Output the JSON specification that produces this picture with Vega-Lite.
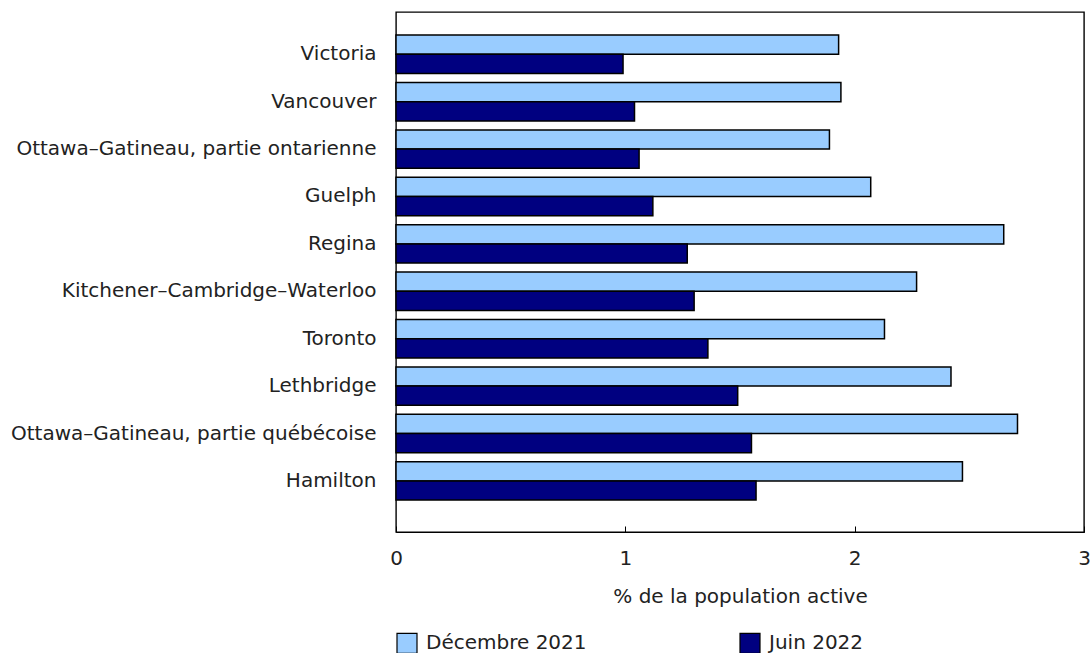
{
  "$schema": "https://vega.github.io/schema/vega-lite/v6.json",
  "width": 688,
  "height": 520,
  "autosize": {"type": "none"},
  "padding": {"left": 396, "top": 12, "right": 8, "bottom": 121},
  "config": {
    "font": "DejaVu Sans",
    "view": {"stroke": "#000000", "strokeWidth": 1.4},
    "axis": {"labelFont": "DejaVu Sans", "titleFont": "DejaVu Sans", "labelColor": "#222222", "titleColor": "#222222"}
  },
  "data": {
    "values": [
      {"ville": "Victoria", "periode": "Décembre 2021", "valeur": 1.93},
      {"ville": "Victoria", "periode": "Juin 2022", "valeur": 0.99},
      {"ville": "Vancouver", "periode": "Décembre 2021", "valeur": 1.94},
      {"ville": "Vancouver", "periode": "Juin 2022", "valeur": 1.04},
      {"ville": "Ottawa–Gatineau, partie ontarienne", "periode": "Décembre 2021", "valeur": 1.89},
      {"ville": "Ottawa–Gatineau, partie ontarienne", "periode": "Juin 2022", "valeur": 1.06},
      {"ville": "Guelph", "periode": "Décembre 2021", "valeur": 2.07},
      {"ville": "Guelph", "periode": "Juin 2022", "valeur": 1.12},
      {"ville": "Regina", "periode": "Décembre 2021", "valeur": 2.65},
      {"ville": "Regina", "periode": "Juin 2022", "valeur": 1.27},
      {"ville": "Kitchener–Cambridge–Waterloo", "periode": "Décembre 2021", "valeur": 2.27},
      {"ville": "Kitchener–Cambridge–Waterloo", "periode": "Juin 2022", "valeur": 1.30},
      {"ville": "Toronto", "periode": "Décembre 2021", "valeur": 2.13},
      {"ville": "Toronto", "periode": "Juin 2022", "valeur": 1.36},
      {"ville": "Lethbridge", "periode": "Décembre 2021", "valeur": 2.42},
      {"ville": "Lethbridge", "periode": "Juin 2022", "valeur": 1.49},
      {"ville": "Ottawa–Gatineau, partie québécoise", "periode": "Décembre 2021", "valeur": 2.71},
      {"ville": "Ottawa–Gatineau, partie québécoise", "periode": "Juin 2022", "valeur": 1.55},
      {"ville": "Hamilton", "periode": "Décembre 2021", "valeur": 2.47},
      {"ville": "Hamilton", "periode": "Juin 2022", "valeur": 1.57}
    ]
  },
  "mark": {"type": "bar", "stroke": "#000000", "strokeWidth": 1.5},
  "encoding": {
    "y": {
      "field": "ville",
      "type": "nominal",
      "sort": null,
      "scale": {"paddingInner": 0.19, "paddingOuter": 0.58, "align": 0.42},
      "axis": {"title": null, "ticks": false, "domain": false, "labelFontSize": 20, "labelPadding": 20, "labelLimit": 500}
    },
    "yOffset": {
      "field": "periode",
      "type": "nominal",
      "scale": {"paddingInner": 0, "paddingOuter": 0}
    },
    "x": {
      "field": "valeur",
      "type": "quantitative",
      "scale": {"domain": [0, 3], "nice": false},
      "axis": {
        "values": [0, 1, 2, 3],
        "format": "d",
        "grid": false,
        "labelFlush": false,
        "tickSize": -6,
        "tickColor": "#000000",
        "domainColor": "#000000",
        "labelFontSize": 20,
        "labelPadding": 22,
        "title": "% de la population active",
        "titleFontSize": 20,
        "titleFontWeight": "normal",
        "titlePadding": 18
      }
    },
    "color": {
      "field": "periode",
      "type": "nominal",
      "scale": {"domain": ["Décembre 2021", "Juin 2022"], "range": ["#99CCFF", "#000080"]},
      "legend": {
        "title": null,
        "orient": "none",
        "legendX": 0,
        "legendY": 620,
        "direction": "horizontal",
        "columns": 2,
        "columnPadding": 150,
        "symbolType": "square",
        "symbolSize": 400,
        "symbolStrokeColor": "#000000",
        "symbolStrokeWidth": 1.2,
        "labelFontSize": 20,
        "labelOffset": 8,
        "labelLimit": 400,
        "labelColor": "#222222",
        "labelFont": "DejaVu Sans"
      }
    }
  }
}
